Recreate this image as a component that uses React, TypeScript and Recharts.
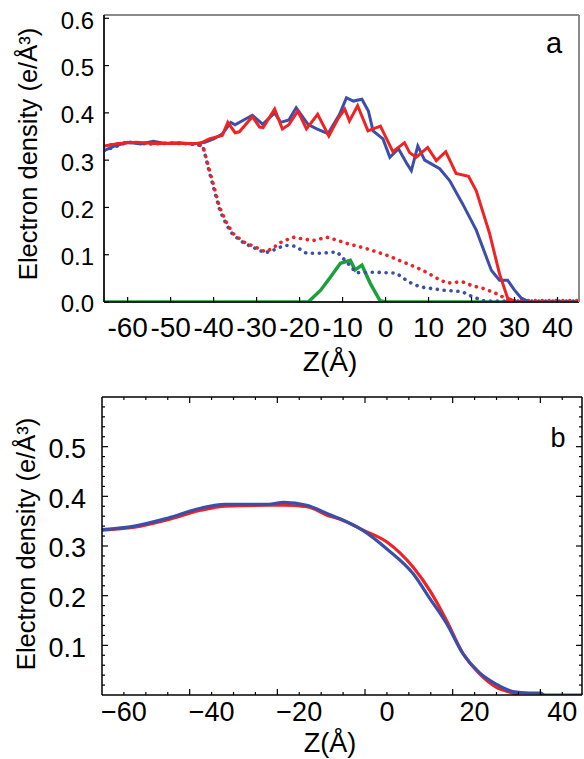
import React from "react";
import { LineChart, Line, XAxis, YAxis, Label } from "recharts";

const FONT = '"Liberation Sans", Arial, Helvetica, sans-serif';
const RED = "#ee2324";
const BLUE = "#3b4fa9";
const GREEN = "#1d9f3e";

// ---- panel a ----
const aXTicks = [-60, -50, -40, -30, -20, -10, 0, 10, 20, 30, 40];
const aYTicks = [0, 0.1, 0.2, 0.3, 0.4, 0.5, 0.6];

const aRedSolidZ = [-65.5, -62, -58, -54, -50, -46, -43, -41, -38, -36.7, -35, -34, -31, -29.3, -28.5, -25.8, -24, -22.5, -20.4, -18.4, -15.8, -13.2, -11.1, -9.5, -8.4, -6.5, -4.1, -1.2, 1.7, 4.4, 5.6, 7.1, 9.8, 11.8, 14, 16.4, 19.3, 21.1, 24.2, 26.5, 28.4, 30];
const aRedSolidV = [0.33, 0.335, 0.338, 0.335, 0.336, 0.335, 0.336, 0.345, 0.352, 0.38, 0.358, 0.36, 0.392, 0.37, 0.369, 0.408, 0.366, 0.375, 0.404, 0.366, 0.397, 0.351, 0.387, 0.408, 0.383, 0.415, 0.362, 0.372, 0.318, 0.337, 0.316, 0.306, 0.327, 0.299, 0.318, 0.272, 0.266, 0.235, 0.145, 0.06, 0.008, 0.002];

const aBlueSolidZ = [-65.5, -63, -60, -57, -54, -51, -48, -45, -42, -40, -38, -36, -35, -33, -31, -28.6, -25.8, -24.4, -22.5, -20.8, -18, -16, -13.4, -10.7, -9.1, -7.5, -5.5, -4, -2.9, -0.6, 1, 3, 5, 6, 7.5, 9.1, 12.6, 14.9, 17.9, 21.1, 24.6, 26.5, 28.4, 30, 31.6, 33];
const aBlueSolidV = [0.32, 0.33, 0.338, 0.334, 0.34, 0.335, 0.337, 0.334, 0.338, 0.345, 0.355, 0.38, 0.375, 0.385, 0.395, 0.376, 0.4, 0.38, 0.385, 0.411, 0.375, 0.366, 0.356, 0.397, 0.432, 0.425, 0.429, 0.404, 0.362, 0.345, 0.306, 0.324, 0.292, 0.278, 0.33, 0.3, 0.282, 0.257, 0.208, 0.152, 0.067, 0.046, 0.046, 0.025, 0.008, 0.002];

const aRedDotZ = [-65.5, -60, -55, -50, -45, -42.5, -41, -39.8, -38.6, -37, -35.5, -33, -30, -28, -26, -24.9, -21.6, -19, -16.8, -13.7, -11, -9.1, -4.5, 0, 4, 8.7, 12, 14.3, 17.8, 20, 23, 26.5, 28.5, 45];
const aRedDotV = [0.33, 0.338, 0.335, 0.336, 0.335, 0.33, 0.28, 0.24, 0.2, 0.168, 0.145, 0.127, 0.115, 0.106, 0.115, 0.124, 0.137, 0.133, 0.13, 0.137, 0.13, 0.124, 0.113, 0.1, 0.085, 0.067, 0.05, 0.04, 0.043, 0.035, 0.028, 0.015, 0.003, 0.003];

const aBlueDotZ = [-65.5, -60, -55, -50, -45, -42.5, -41, -39.8, -38.6, -37, -35.5, -33, -30, -28, -26, -23.4, -21, -18.4, -15.2, -11.3, -9.1, -6.8, -2.2, 2.5, 5.5, 8, 13.4, 17.8, 19.8, 21.7, 23, 45];
const aBlueDotV = [0.32, 0.338, 0.334, 0.336, 0.334, 0.33, 0.275, 0.235, 0.195, 0.163, 0.142, 0.125, 0.112, 0.104, 0.11, 0.12, 0.118, 0.103, 0.103, 0.106, 0.085, 0.062, 0.063, 0.061, 0.042, 0.032, 0.025, 0.022, 0.013, 0.006, 0.002, 0.002];

const aGreenZ = [-65.5, -18, -15.1, -12.8, -10.5, -8.2, -7.1, -5.5, -3.6, -1.3, 0, 45];
const aGreenV = [0, 0, 0.025, 0.053, 0.082, 0.088, 0.068, 0.078, 0.04, 0.003, 0, 0];

// ---- panel b ----
const bXLabels = [-60, -40, -20, 0, 20, 40];
const bYLabels = [0.1, 0.2, 0.3, 0.4, 0.5];

const bRedZ = [-65, -57.6, -50, -42.5, -37, -27, -23.6, -18.3, -13, -10.7, -5.4, 0, 6, 9.8, 13.6, 17.3, 21.1, 24.9, 28.7, 30];
const bRedV = [0.332, 0.338, 0.353, 0.372, 0.38, 0.382, 0.382, 0.379, 0.36, 0.354, 0.332, 0.308, 0.257, 0.21, 0.15, 0.084, 0.043, 0.016, 0.004, 0];

const bBlueZ = [-65, -57.6, -50, -42.5, -37, -27, -23.6, -18.3, -13, -10.7, -5.4, 0, 6, 9.8, 13.6, 17.3, 21.1, 24.9, 28.7, 32.5, 35, 36, 44.5];
const bBlueV = [0.333, 0.34, 0.356, 0.376, 0.384, 0.384, 0.388, 0.382, 0.363, 0.355, 0.331, 0.294, 0.244, 0.194, 0.144, 0.084, 0.045, 0.022, 0.007, 0.004, 0.004, 0, 0];

const pts = (z: number[], v: number[]) => z.map((x, i) => ({ z: x, v: v[i] }));

const bXTicks: number[] = [];
for (let t = -60; t <= 40; t += 5) bXTicks.push(t);
const bYTicks: number[] = [];
for (let t = 2; t <= 58; t += 2) bYTicks.push(t / 100);

const isLabel = (list: number[], v: number) => list.some((l) => Math.abs(l - v) < 1e-6);
const fmtMinus = (v: number) => (v < 0 ? "\u2212" + Math.abs(v) : String(v));

function hTick(side: "bottom" | "top", len: (v: number) => number, fmt: (v: number) => string, dy: number, fs: number) {
  return (p: any) => {
    const v = p.payload.value;
    const t = fmt(v);
    const dir = side === "bottom" ? -1 : 1;
    return (
      <g>
        <line x1={p.x} x2={p.x} y1={p.y} y2={p.y + dir * len(v)} stroke="#000" strokeWidth={1.2} />
        {t ? (
          <text x={p.x} y={p.y + dy} textAnchor="middle" fontSize={fs} fontFamily={FONT} fill="#000">
            {t}
          </text>
        ) : null}
      </g>
    );
  };
}

function vTick(side: "left" | "right", len: (v: number) => number, fmt: (v: number) => string, dx: number, fs: number) {
  return (p: any) => {
    const v = p.payload.value;
    const t = fmt(v);
    const dir = side === "left" ? 1 : -1;
    return (
      <g>
        <line x1={p.x} x2={p.x + dir * len(v)} y1={p.y} y2={p.y} stroke="#000" strokeWidth={1.2} />
        {t ? (
          <text x={p.x - dx} y={p.y + 2} dy="0.35em" textAnchor="end" fontSize={fs} fontFamily={FONT} fill="#000">
            {t}
          </text>
        ) : null}
      </g>
    );
  };
}

const yTitle = (x: number, cy: number) => () => (
  <text x={x} y={cy} transform={`rotate(-90, ${x}, ${cy})`} textAnchor="middle" fontSize={25.5} fontFamily={FONT} fill="#000">
    Electron density (e/Å³)
  </text>
);

const plainText = (x: number, y: number, s: string, fs: number) => () => (
  <text x={x} y={y} textAnchor="middle" fontSize={fs} fontFamily={FONT} fill="#000">
    {s}
  </text>
);

function PanelA() {
  return (
    <LineChart width={584} height={380} margin={{ top: 14, right: 4, bottom: 0, left: 0 }}>
      <XAxis
        xAxisId="b"
        type="number"
        dataKey="z"
        domain={[-65.5, 45]}
        allowDataOverflow
        ticks={aXTicks}
        interval={0}
        height={78}
        tickSize={0}
        tickMargin={0}
        tickLine={false}
        axisLine={{ stroke: "#222", strokeWidth: 2 }}
        tick={hTick("bottom", () => 5, (v) => String(v), 35, 28)}
      >
        <Label content={plainText(330, 371, "Z(Å)", 28)} />
      </XAxis>
      <XAxis xAxisId="t" orientation="top" type="number" dataKey="z" domain={[-65.5, 45]} allowDataOverflow height={1} ticks={aXTicks} tick={false} tickLine={false} axisLine={{ stroke: "#8a8a8a", strokeWidth: 2 }}>
        <Label content={plainText(554, 53, "a", 29)} />
      </XAxis>
      <YAxis
        yAxisId="l"
        type="number"
        domain={[0, 0.607]}
        allowDataOverflow
        ticks={aYTicks}
        interval={0}
        width={104}
        tickSize={0}
        tickMargin={0}
        tickLine={false}
        axisLine={{ stroke: "#222", strokeWidth: 2 }}
        tick={vTick("left", () => 5, (v) => v.toFixed(1), 10, 24)}
      >
        <Label content={yTitle(37, 154)} />
      </YAxis>
      <YAxis yAxisId="r" orientation="right" type="number" domain={[0, 0.607]} width={1} ticks={aYTicks} tick={false} tickLine={false} axisLine={{ stroke: "#8a8a8a", strokeWidth: 2 }} />
      <Line xAxisId="b" yAxisId="l" data={pts(aGreenZ, aGreenV)} dataKey="v" type="linear" stroke={GREEN} strokeWidth={3.5} dot={false} isAnimationActive={false} />
      <Line xAxisId="b" yAxisId="l" data={pts(aBlueDotZ, aBlueDotV)} dataKey="v" type="linear" stroke={BLUE} strokeWidth={3.6} strokeDasharray="0.1 6.8" strokeLinecap="round" dot={false} isAnimationActive={false} />
      <Line xAxisId="b" yAxisId="l" data={pts(aRedDotZ, aRedDotV)} dataKey="v" type="linear" stroke={RED} strokeWidth={3.6} strokeDasharray="0.1 6.8" strokeLinecap="round" dot={false} isAnimationActive={false} />
      <Line xAxisId="b" yAxisId="l" data={pts(aBlueSolidZ, aBlueSolidV)} dataKey="v" type="linear" stroke={BLUE} strokeWidth={3} dot={false} isAnimationActive={false} />
      <Line xAxisId="b" yAxisId="l" data={pts(aRedSolidZ, aRedSolidV)} dataKey="v" type="linear" stroke={RED} strokeWidth={3} dot={false} isAnimationActive={false} />
    </LineChart>
  );
}

function PanelB() {
  const xLen = (v: number) => ((v + 45) % 20 === 0 ? 6 : 3);
  const yLen = (v: number) => (isLabel(bYLabels, v) ? 6 : 3);
  return (
    <LineChart width={584} height={379} margin={{ top: 16, right: 1, bottom: 0, left: 0 }}>
      <XAxis
        xAxisId="b"
        type="number"
        dataKey="z"
        domain={[-65, 44.5]}
        allowDataOverflow
        ticks={bXTicks}
        interval={0}
        height={64}
        tickSize={0}
        tickMargin={0}
        tickLine={false}
        axisLine={{ stroke: "#000", strokeWidth: 1.5 }}
        tick={hTick("bottom", xLen, (v) => (isLabel(bXLabels, v) ? fmtMinus(v) : ""), 26, 27)}
      >
        <Label content={plainText(330, 372, "Z(Å)", 27)} />
      </XAxis>
      <XAxis
        xAxisId="t"
        orientation="top"
        type="number"
        dataKey="z"
        domain={[-65, 44.5]}
        allowDataOverflow
        ticks={bXTicks}
        interval={0}
        height={1}
        tickSize={0}
        tickMargin={0}
        tickLine={false}
        axisLine={{ stroke: "#000", strokeWidth: 1.5 }}
        tick={hTick("top", xLen, () => "", 0, 24)}
      >
        <Label content={plainText(558, 67, "b", 27)} />
      </XAxis>
      <YAxis
        yAxisId="l"
        type="number"
        domain={[0, 0.6]}
        allowDataOverflow
        ticks={bYTicks}
        interval={0}
        width={102}
        tickSize={0}
        tickMargin={0}
        tickLine={false}
        axisLine={{ stroke: "#000", strokeWidth: 1.5 }}
        tick={vTick("left", yLen, (v) => (isLabel(bYLabels, v) ? v.toFixed(1) : ""), 16, 27)}
      >
        <Label content={yTitle(35, 164)} />
      </YAxis>
      <YAxis
        yAxisId="r"
        orientation="right"
        type="number"
        domain={[0, 0.6]}
        allowDataOverflow
        ticks={bYTicks}
        interval={0}
        width={1}
        tickSize={0}
        tickMargin={0}
        tickLine={false}
        axisLine={{ stroke: "#000", strokeWidth: 1.5 }}
        tick={vTick("right", yLen, () => "", 0, 24)}
      />
      <Line xAxisId="b" yAxisId="l" data={pts(bRedZ, bRedV)} dataKey="v" type="monotone" stroke={RED} strokeWidth={3.2} dot={false} isAnimationActive={false} />
      <Line xAxisId="b" yAxisId="l" data={pts(bBlueZ, bBlueV)} dataKey="v" type="monotone" stroke={BLUE} strokeWidth={3.2} dot={false} isAnimationActive={false} />
    </LineChart>
  );
}

export default function App() {
  return (
    <div style={{ position: "absolute", left: 0, top: 0, width: 584, height: 759, background: "#fff", overflow: "hidden" }}>
      <div style={{ position: "absolute", left: 0, top: 0 }}>
        <PanelA />
      </div>
      <div style={{ position: "absolute", left: 0, top: 380 }}>
        <PanelB />
      </div>
    </div>
  );
}
